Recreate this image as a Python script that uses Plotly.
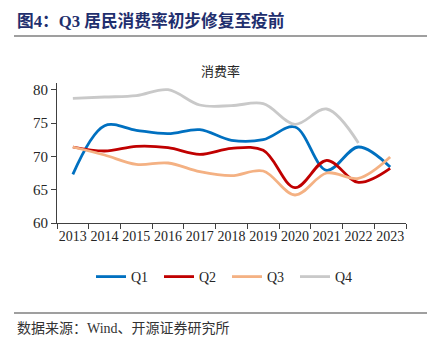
import plotly.graph_objects as go

years = ["2013", "2014", "2015", "2016", "2017", "2018", "2019", "2020", "2021", "2022", "2023"]
q1 = [67.3, 74.6, 73.9, 73.4, 74.0, 72.4, 72.5, 74.4, 67.9, 71.4, 68.4]
q2 = [71.4, 70.8, 71.5, 71.3, 70.3, 71.2, 70.9, 65.3, 69.4, 66.1, 68.2]
q3 = [71.4, 70.2, 68.8, 69.0, 67.7, 67.1, 67.8, 64.2, 67.5, 66.7, 69.9]
q4 = [78.7, 78.9, 79.1, 80.0, 77.7, 77.6, 77.9, 74.8, 77.1, 72.0]
series = [("Q1", q1, "#0070C0"), ("Q2", q2, "#C00000"), ("Q3", q3, "#F4B183"), ("Q4", q4, "#C9C9C9")]

W, H = 427, 350
L, R, T, B = 57, 406, 83, 223


def px(x):
    return (x - L) / (R - L)


def py(y):
    return (B - y) / (B - T)


SERIF = "Liberation Serif, Noto Sans CJK SC"

fig = go.Figure()
for name, vals, color in series:
    fig.add_trace(go.Scatter(
        x=years[:len(vals)], y=vals, name=name, mode="lines",
        line=dict(color=color, width=2.8, shape="spline", smoothing=1.0),
    ))

fig.update_layout(
    width=W, height=H, autosize=False,
    margin=dict(l=L, r=W - R, t=T, b=H - B, pad=0),
    paper_bgcolor="white", plot_bgcolor="white",
    font=dict(family=SERIF, size=14, color="#262626"),
    showlegend=True,
    legend=dict(
        orientation="h", x=px(91), xanchor="left", y=py(277), yanchor="middle",
        font=dict(family=SERIF, size=14, color="#262626"),
        entrywidth=23, entrywidthmode="pixels", itemwidth=30,
        bgcolor="rgba(0,0,0,0)",
    ),
    xaxis=dict(
        type="category", range=[-0.5, 10.5], showgrid=False, zeroline=False,
        showline=True, linecolor="#404040", linewidth=1,
        ticks="outside", tickson="boundaries", ticklen=5, tickcolor="#404040",
        tickangle=0,
        tickfont=dict(family=SERIF, size=14, color="#262626"),
        fixedrange=True,
    ),
    yaxis=dict(
        range=[60, 81], tickvals=[60, 65, 70, 75, 80], showgrid=False, zeroline=False,
        showline=True, linecolor="#404040", linewidth=1,
        ticks="outside", ticklen=5, tickcolor="#404040",
        tickfont=dict(family=SERIF, size=15, color="#262626"),
        fixedrange=True,
    ),
)

fig.add_annotation(
    x=px(15), y=py(21), xref="paper", yref="paper", xanchor="left", yanchor="middle",
    text="<b>图4：Q3 居民消费率初步修复至疫前</b>", showarrow=False,
    font=dict(family=SERIF, size=16.7, color="#1F2F6E"),
)
fig.add_annotation(
    x=px(220), y=py(71), xref="paper", yref="paper", xanchor="center", yanchor="middle",
    text="消费率", showarrow=False,
    font=dict(family=SERIF, size=13, color="#262626"),
)
fig.add_annotation(
    x=px(15), y=py(328), xref="paper", yref="paper", xanchor="left", yanchor="middle",
    text="数据来源：Wind、开源证券研究所", showarrow=False,
    font=dict(family=SERIF, size=14, color="#333333"),
)
for yy in (36, 313):
    fig.add_shape(type="line", xref="paper", yref="paper",
                  x0=px(14), x1=px(427), y0=py(yy), y1=py(yy),
                  line=dict(color="#7F7F7F", width=1.5))

fig.write_html("out.html")
